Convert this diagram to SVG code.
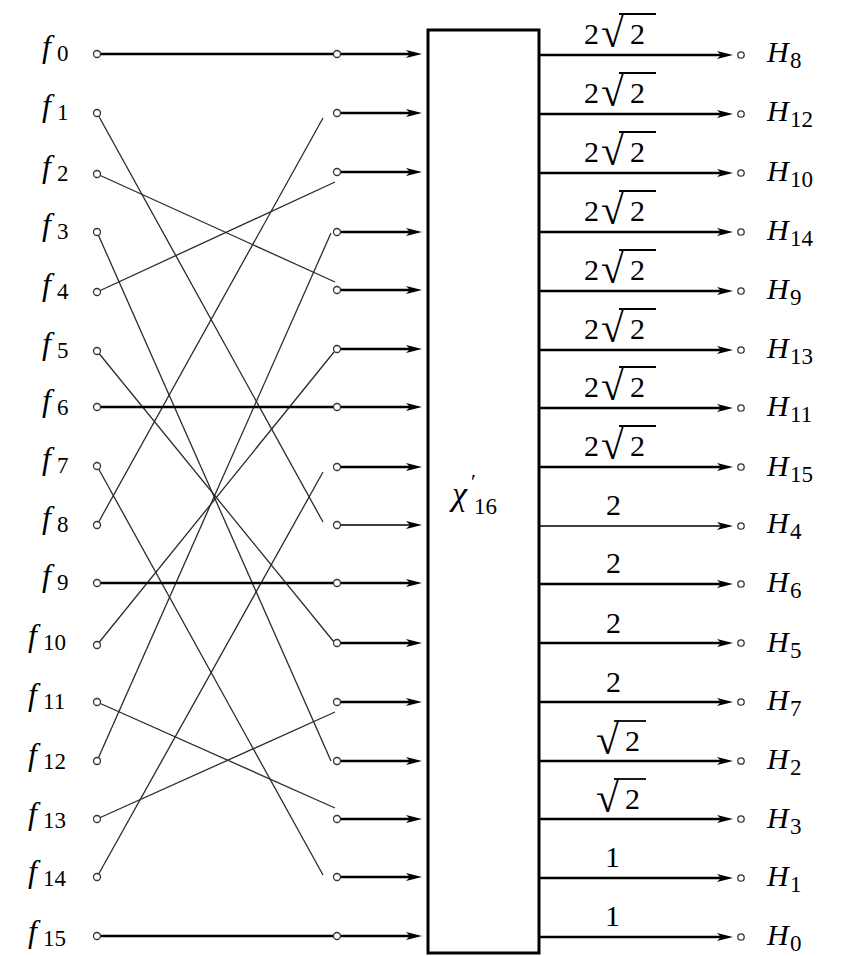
<svg xmlns="http://www.w3.org/2000/svg" width="841" height="956" viewBox="0 0 841 956">
<defs>
<marker id="arr" viewBox="0 -5 16 10" refX="8" refY="0" markerWidth="16" markerHeight="10" markerUnits="userSpaceOnUse" orient="auto">
<path d="M0,-4 L16,0 L0,4 L4,0 z" fill="#000"/>
</marker>
</defs>
<rect width="841" height="956" fill="#fff"/>

<g id="connectors">
<g stroke="#2b2b2b" stroke-width="1.3" fill="none">
<line x1="97" y1="113" x2="323" y2="522"/>
<line x1="97" y1="174" x2="335" y2="282"/>
<line x1="97" y1="232" x2="331" y2="761"/>
<line x1="97" y1="292" x2="335" y2="182"/>
<line x1="97" y1="351" x2="334" y2="642"/>
<line x1="97" y1="466" x2="323" y2="875"/>
<line x1="97" y1="525" x2="323" y2="118"/>
<line x1="97" y1="645" x2="334" y2="352"/>
<line x1="97" y1="702" x2="335" y2="808"/>
<line x1="97" y1="761" x2="331" y2="233"/>
<line x1="97" y1="819" x2="335" y2="712"/>
<line x1="97" y1="877" x2="323" y2="472"/>
</g>
<g stroke="#000" stroke-width="2.6" fill="none" marker-end="url(#arr)">
<line x1="97" y1="54" x2="414" y2="54"/>
<line x1="97" y1="407" x2="414" y2="407"/>
<line x1="97" y1="583" x2="414" y2="583"/>
<line x1="97" y1="936" x2="414" y2="936"/>
<line x1="337" y1="113" x2="414" y2="113"/>
<line x1="337" y1="172" x2="414" y2="172"/>
<line x1="337" y1="232" x2="414" y2="232"/>
<line x1="337" y1="290" x2="414" y2="290"/>
<line x1="337" y1="349" x2="414" y2="349"/>
<line x1="337" y1="467" x2="414" y2="467"/>
<line x1="337" y1="525" x2="414" y2="525" stroke-width="1.4"/>
<line x1="337" y1="643" x2="414" y2="643"/>
<line x1="337" y1="702" x2="414" y2="702"/>
<line x1="337" y1="761" x2="414" y2="761"/>
<line x1="337" y1="819" x2="414" y2="819"/>
<line x1="337" y1="877" x2="414" y2="877"/>
<line x1="539" y1="55" x2="725" y2="55"/>
<line x1="539" y1="114" x2="725" y2="114"/>
<line x1="539" y1="173" x2="725" y2="173"/>
<line x1="539" y1="232" x2="725" y2="232"/>
<line x1="539" y1="291" x2="725" y2="291"/>
<line x1="539" y1="350" x2="725" y2="350"/>
<line x1="539" y1="408" x2="725" y2="408"/>
<line x1="539" y1="467" x2="725" y2="467"/>
<line x1="539" y1="526" x2="725" y2="526" stroke-width="1.4"/>
<line x1="539" y1="584" x2="725" y2="584"/>
<line x1="539" y1="643" x2="725" y2="643"/>
<line x1="539" y1="702" x2="725" y2="702"/>
<line x1="539" y1="761" x2="725" y2="761"/>
<line x1="539" y1="819" x2="725" y2="819"/>
<line x1="539" y1="878" x2="725" y2="878"/>
<line x1="539" y1="937" x2="725" y2="937"/>
</g>
</g>

<g id="edge-labels" fill="#000">
<g stroke="#000" stroke-width="1.8">
<line x1="619" y1="14" x2="656" y2="14"/>
<line x1="619" y1="73" x2="656" y2="73"/>
<line x1="619" y1="132" x2="656" y2="132"/>
<line x1="619" y1="191" x2="656" y2="191"/>
<line x1="619" y1="250" x2="656" y2="250"/>
<line x1="619" y1="309" x2="656" y2="309"/>
<line x1="619" y1="367" x2="656" y2="367"/>
<line x1="619" y1="426" x2="656" y2="426"/>
<line x1="614" y1="721" x2="646" y2="721"/>
<line x1="614" y1="779" x2="646" y2="779"/>
</g>
<text x="584" y="44" font-family="Liberation Serif" font-size="30">2</text><text x="601" y="47" font-family="Liberation Serif" font-size="42">√</text><text x="630" y="44" font-family="Liberation Serif" font-size="30">2</text>
<text x="584" y="103" font-family="Liberation Serif" font-size="30">2</text><text x="601" y="106" font-family="Liberation Serif" font-size="42">√</text><text x="630" y="103" font-family="Liberation Serif" font-size="30">2</text>
<text x="584" y="162" font-family="Liberation Serif" font-size="30">2</text><text x="601" y="165" font-family="Liberation Serif" font-size="42">√</text><text x="630" y="162" font-family="Liberation Serif" font-size="30">2</text>
<text x="584" y="221" font-family="Liberation Serif" font-size="30">2</text><text x="601" y="224" font-family="Liberation Serif" font-size="42">√</text><text x="630" y="221" font-family="Liberation Serif" font-size="30">2</text>
<text x="584" y="280" font-family="Liberation Serif" font-size="30">2</text><text x="601" y="283" font-family="Liberation Serif" font-size="42">√</text><text x="630" y="280" font-family="Liberation Serif" font-size="30">2</text>
<text x="584" y="339" font-family="Liberation Serif" font-size="30">2</text><text x="601" y="342" font-family="Liberation Serif" font-size="42">√</text><text x="630" y="339" font-family="Liberation Serif" font-size="30">2</text>
<text x="584" y="397" font-family="Liberation Serif" font-size="30">2</text><text x="601" y="400" font-family="Liberation Serif" font-size="42">√</text><text x="630" y="397" font-family="Liberation Serif" font-size="30">2</text>
<text x="584" y="456" font-family="Liberation Serif" font-size="30">2</text><text x="601" y="459" font-family="Liberation Serif" font-size="42">√</text><text x="630" y="456" font-family="Liberation Serif" font-size="30">2</text>
<text x="606" y="515" font-family="Liberation Serif" font-size="30">2</text>
<text x="606" y="573" font-family="Liberation Serif" font-size="30">2</text>
<text x="606" y="633" font-family="Liberation Serif" font-size="30">2</text>
<text x="606" y="692" font-family="Liberation Serif" font-size="30">2</text>
<text x="596" y="754" font-family="Liberation Serif" font-size="42">√</text><text x="625" y="751" font-family="Liberation Serif" font-size="30">2</text>
<text x="596" y="812" font-family="Liberation Serif" font-size="42">√</text><text x="625" y="809" font-family="Liberation Serif" font-size="30">2</text>
<text x="605" y="867" font-family="Liberation Serif" font-size="30">1</text>
<text x="605" y="926" font-family="Liberation Serif" font-size="30">1</text>
</g>

<g id="box">
<rect x="428" y="30" width="111" height="923" fill="#fff" stroke="#000" stroke-width="3"/>
<text x="452" y="505" font-family="Liberation Serif" font-style="italic" font-size="34">χ</text>
<text x="471" y="489" font-family="Liberation Serif" font-size="22">′</text>
<text x="474" y="514" font-family="Liberation Serif" font-size="23">16</text>
</g>

<g id="inputs">
<g id="f0"><circle cx="97" cy="54" r="3.5" fill="#fff" stroke="#333" stroke-width="1.3"/><text x="42" y="57" font-family="Liberation Serif" font-style="italic" font-size="32">f</text><text x="57" y="61" font-family="Liberation Serif" font-size="23">0</text></g>
<g id="f1"><circle cx="97" cy="113" r="3.5" fill="#fff" stroke="#333" stroke-width="1.3"/><text x="42" y="116" font-family="Liberation Serif" font-style="italic" font-size="32">f</text><text x="57" y="120" font-family="Liberation Serif" font-size="23">1</text></g>
<g id="f2"><circle cx="97" cy="174" r="3.5" fill="#fff" stroke="#333" stroke-width="1.3"/><text x="42" y="177" font-family="Liberation Serif" font-style="italic" font-size="32">f</text><text x="57" y="181" font-family="Liberation Serif" font-size="23">2</text></g>
<g id="f3"><circle cx="97" cy="232" r="3.5" fill="#fff" stroke="#333" stroke-width="1.3"/><text x="42" y="235" font-family="Liberation Serif" font-style="italic" font-size="32">f</text><text x="57" y="239" font-family="Liberation Serif" font-size="23">3</text></g>
<g id="f4"><circle cx="97" cy="292" r="3.5" fill="#fff" stroke="#333" stroke-width="1.3"/><text x="42" y="295" font-family="Liberation Serif" font-style="italic" font-size="32">f</text><text x="57" y="299" font-family="Liberation Serif" font-size="23">4</text></g>
<g id="f5"><circle cx="97" cy="351" r="3.5" fill="#fff" stroke="#333" stroke-width="1.3"/><text x="42" y="354" font-family="Liberation Serif" font-style="italic" font-size="32">f</text><text x="57" y="358" font-family="Liberation Serif" font-size="23">5</text></g>
<g id="f6"><circle cx="97" cy="407" r="3.5" fill="#fff" stroke="#333" stroke-width="1.3"/><text x="42" y="411" font-family="Liberation Serif" font-style="italic" font-size="32">f</text><text x="57" y="415" font-family="Liberation Serif" font-size="23">6</text></g>
<g id="f7"><circle cx="97" cy="466" r="3.5" fill="#fff" stroke="#333" stroke-width="1.3"/><text x="42" y="469" font-family="Liberation Serif" font-style="italic" font-size="32">f</text><text x="57" y="473" font-family="Liberation Serif" font-size="23">7</text></g>
<g id="f8"><circle cx="97" cy="525" r="3.5" fill="#fff" stroke="#333" stroke-width="1.3"/><text x="42" y="528" font-family="Liberation Serif" font-style="italic" font-size="32">f</text><text x="57" y="532" font-family="Liberation Serif" font-size="23">8</text></g>
<g id="f9"><circle cx="97" cy="583" r="3.5" fill="#fff" stroke="#333" stroke-width="1.3"/><text x="42" y="586" font-family="Liberation Serif" font-style="italic" font-size="32">f</text><text x="57" y="590" font-family="Liberation Serif" font-size="23">9</text></g>
<g id="f10"><circle cx="97" cy="645" r="3.5" fill="#fff" stroke="#333" stroke-width="1.3"/><text x="28" y="646" font-family="Liberation Serif" font-style="italic" font-size="32">f</text><text x="43" y="650" font-family="Liberation Serif" font-size="23">10</text></g>
<g id="f11"><circle cx="97" cy="702" r="3.5" fill="#fff" stroke="#333" stroke-width="1.3"/><text x="28" y="705" font-family="Liberation Serif" font-style="italic" font-size="32">f</text><text x="43" y="709" font-family="Liberation Serif" font-size="23">11</text></g>
<g id="f12"><circle cx="97" cy="761" r="3.5" fill="#fff" stroke="#333" stroke-width="1.3"/><text x="28" y="765" font-family="Liberation Serif" font-style="italic" font-size="32">f</text><text x="43" y="769" font-family="Liberation Serif" font-size="23">12</text></g>
<g id="f13"><circle cx="97" cy="819" r="3.5" fill="#fff" stroke="#333" stroke-width="1.3"/><text x="28" y="824" font-family="Liberation Serif" font-style="italic" font-size="32">f</text><text x="43" y="828" font-family="Liberation Serif" font-size="23">13</text></g>
<g id="f14"><circle cx="97" cy="877" r="3.5" fill="#fff" stroke="#333" stroke-width="1.3"/><text x="28" y="882" font-family="Liberation Serif" font-style="italic" font-size="32">f</text><text x="43" y="886" font-family="Liberation Serif" font-size="23">14</text></g>
<g id="f15"><circle cx="97" cy="936" r="3.5" fill="#fff" stroke="#333" stroke-width="1.3"/><text x="28" y="942" font-family="Liberation Serif" font-style="italic" font-size="32">f</text><text x="43" y="946" font-family="Liberation Serif" font-size="23">15</text></g>
</g>

<g id="middle" fill="#fff" stroke="#333" stroke-width="1.3">
<circle id="m0" cx="337" cy="54" r="3.5"/>
<circle id="m1" cx="337" cy="113" r="3.5"/>
<circle id="m2" cx="337" cy="172" r="3.5"/>
<circle id="m3" cx="337" cy="232" r="3.5"/>
<circle id="m4" cx="337" cy="290" r="3.5"/>
<circle id="m5" cx="337" cy="349" r="3.5"/>
<circle id="m6" cx="337" cy="407" r="3.5"/>
<circle id="m7" cx="337" cy="467" r="3.5"/>
<circle id="m8" cx="337" cy="525" r="3.5"/>
<circle id="m9" cx="337" cy="583" r="3.5"/>
<circle id="m10" cx="337" cy="643" r="3.5"/>
<circle id="m11" cx="337" cy="702" r="3.5"/>
<circle id="m12" cx="337" cy="761" r="3.5"/>
<circle id="m13" cx="337" cy="819" r="3.5"/>
<circle id="m14" cx="337" cy="877" r="3.5"/>
<circle id="m15" cx="337" cy="936" r="3.5"/>
</g>

<g id="outputs">
<g id="H8"><circle cx="741" cy="55" r="3.2" fill="#fff" stroke="#333" stroke-width="1.3"/><text x="767" y="62" font-family="Liberation Serif" font-style="italic" font-size="30">H</text><text x="790" y="68" font-family="Liberation Serif" font-size="23">8</text></g>
<g id="H12"><circle cx="741" cy="114" r="3.2" fill="#fff" stroke="#333" stroke-width="1.3"/><text x="767" y="121" font-family="Liberation Serif" font-style="italic" font-size="30">H</text><text x="790" y="127" font-family="Liberation Serif" font-size="23">12</text></g>
<g id="H10"><circle cx="741" cy="173" r="3.2" fill="#fff" stroke="#333" stroke-width="1.3"/><text x="767" y="181" font-family="Liberation Serif" font-style="italic" font-size="30">H</text><text x="790" y="187" font-family="Liberation Serif" font-size="23">10</text></g>
<g id="H14"><circle cx="741" cy="232" r="3.2" fill="#fff" stroke="#333" stroke-width="1.3"/><text x="767" y="240" font-family="Liberation Serif" font-style="italic" font-size="30">H</text><text x="790" y="246" font-family="Liberation Serif" font-size="23">14</text></g>
<g id="H9"><circle cx="741" cy="291" r="3.2" fill="#fff" stroke="#333" stroke-width="1.3"/><text x="767" y="299" font-family="Liberation Serif" font-style="italic" font-size="30">H</text><text x="790" y="305" font-family="Liberation Serif" font-size="23">9</text></g>
<g id="H13"><circle cx="741" cy="350" r="3.2" fill="#fff" stroke="#333" stroke-width="1.3"/><text x="767" y="358" font-family="Liberation Serif" font-style="italic" font-size="30">H</text><text x="790" y="364" font-family="Liberation Serif" font-size="23">13</text></g>
<g id="H11"><circle cx="741" cy="408" r="3.2" fill="#fff" stroke="#333" stroke-width="1.3"/><text x="767" y="416" font-family="Liberation Serif" font-style="italic" font-size="30">H</text><text x="790" y="422" font-family="Liberation Serif" font-size="23">11</text></g>
<g id="H15"><circle cx="741" cy="467" r="3.2" fill="#fff" stroke="#333" stroke-width="1.3"/><text x="767" y="476" font-family="Liberation Serif" font-style="italic" font-size="30">H</text><text x="790" y="482" font-family="Liberation Serif" font-size="23">15</text></g>
<g id="H4"><circle cx="741" cy="526" r="3.2" fill="#fff" stroke="#333" stroke-width="1.3"/><text x="767" y="533" font-family="Liberation Serif" font-style="italic" font-size="30">H</text><text x="790" y="539" font-family="Liberation Serif" font-size="23">4</text></g>
<g id="H6"><circle cx="741" cy="584" r="3.2" fill="#fff" stroke="#333" stroke-width="1.3"/><text x="767" y="592" font-family="Liberation Serif" font-style="italic" font-size="30">H</text><text x="790" y="598" font-family="Liberation Serif" font-size="23">6</text></g>
<g id="H5"><circle cx="741" cy="643" r="3.2" fill="#fff" stroke="#333" stroke-width="1.3"/><text x="767" y="652" font-family="Liberation Serif" font-style="italic" font-size="30">H</text><text x="790" y="658" font-family="Liberation Serif" font-size="23">5</text></g>
<g id="H7"><circle cx="741" cy="702" r="3.2" fill="#fff" stroke="#333" stroke-width="1.3"/><text x="767" y="710" font-family="Liberation Serif" font-style="italic" font-size="30">H</text><text x="790" y="716" font-family="Liberation Serif" font-size="23">7</text></g>
<g id="H2"><circle cx="741" cy="761" r="3.2" fill="#fff" stroke="#333" stroke-width="1.3"/><text x="767" y="769" font-family="Liberation Serif" font-style="italic" font-size="30">H</text><text x="790" y="775" font-family="Liberation Serif" font-size="23">2</text></g>
<g id="H3"><circle cx="741" cy="819" r="3.2" fill="#fff" stroke="#333" stroke-width="1.3"/><text x="767" y="828" font-family="Liberation Serif" font-style="italic" font-size="30">H</text><text x="790" y="834" font-family="Liberation Serif" font-size="23">3</text></g>
<g id="H1"><circle cx="741" cy="878" r="3.2" fill="#fff" stroke="#333" stroke-width="1.3"/><text x="767" y="886" font-family="Liberation Serif" font-style="italic" font-size="30">H</text><text x="790" y="892" font-family="Liberation Serif" font-size="23">1</text></g>
<g id="H0"><circle cx="741" cy="937" r="3.2" fill="#fff" stroke="#333" stroke-width="1.3"/><text x="767" y="945" font-family="Liberation Serif" font-style="italic" font-size="30">H</text><text x="790" y="951" font-family="Liberation Serif" font-size="23">0</text></g>
</g>
</svg>
